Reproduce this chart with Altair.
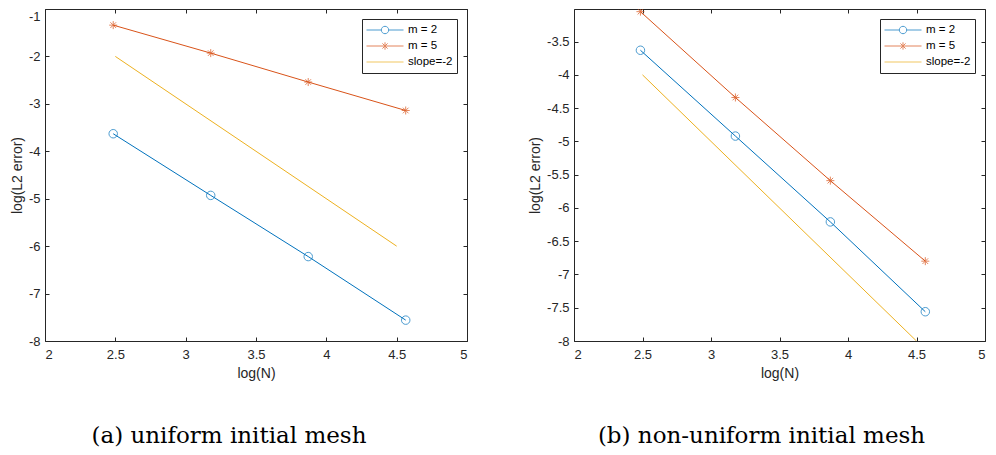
import altair as alt
import pandas as pd

series = ["m = 2", "m = 5", "slope=-2"]
colors = ["#0072BD", "#D95319", "#EDB120"]

log_n = [2.4849, 3.1781, 3.8712, 4.5643]
uni_m2 = [-3.63, -4.93, -6.22, -7.56]
uni_m5 = [-1.34, -1.93, -2.54, -3.14]
non_m2 = [-3.63, -4.92, -6.21, -7.56]
non_m5 = [-3.05, -4.34, -5.59, -6.80]
slope_x = [2.5, 4.5]
uni_slope = [-2.0, -6.0]
non_slope = [-4.0, -8.0]

x_ticks = [2, 2.5, 3, 3.5, 4, 4.5, 5]
uni_y_ticks = [-8, -7, -6, -5, -4, -3, -2, -1]
non_y_ticks = [-8, -7.5, -7, -6.5, -6, -5.5, -5, -4.5, -4, -3.5]
uni_y_domain = [-8, -1]
non_y_domain = [-8, -3.01]
captions = ["(a) uniform initial mesh", "(b) non-uniform initial mesh"]

STAR = "M-1,0H1M0,-1V1M-0.7,-0.7L0.7,0.7M-0.7,0.7L0.7,-0.7"
LEG_CIRCLE = "M-1,0H-0.2M0.2,0H1M0.2,0A0.2,0.2 0 1,1 -0.2,0A0.2,0.2 0 1,1 0.2,0"
LEG_STAR = "M-1,0H1M0,-0.2V0.2M-0.14,-0.14L0.14,0.14M-0.14,0.14L0.14,-0.14"
LEG_LINE = "M-1,0H1"
legend_paths = [LEG_CIRCLE, LEG_STAR, LEG_LINE]

AX = "#262626"


def panel(m2, m5, slope, ydom, yticks, caption, width, dx):
    rows = []
    for xv, yv in zip(log_n, m2):
        rows.append({"series": series[0], "x": xv, "y": yv})
    for xv, yv in zip(log_n, m5):
        rows.append({"series": series[1], "x": xv, "y": yv})
    for xv, yv in zip(slope_x, slope):
        rows.append({"series": series[2], "x": xv, "y": yv})
    df = pd.DataFrame(rows)
    df_leg = pd.DataFrame({"series": series, "x": [float("nan")] * 3, "y": [float("nan")] * 3})

    xs = alt.Scale(domain=[2, 5], nice=False, zero=False)
    ys = alt.Scale(domain=ydom, nice=False, zero=False)
    cscale = alt.Scale(domain=series, range=colors)
    lbl = "datum.value + ''"
    top_val = ydom[1]
    y_label_offset = {"condition": {"test": f"datum.value >= {top_val} - 0.001", "value": 7}, "value": 0}

    leg = alt.Legend(title=None, orient="top-right", offset=10, clipHeight=14, rowPadding=2,
                     symbolSize=1369, symbolStrokeWidth=1, labelOffset=4, symbolOffset=0,
                     padding=4, fillColor="white", strokeColor=AX, labelFont="Liberation Sans",
                     labelFontSize=11.5, labelColor="black")
    legend_layer = alt.Chart(df_leg).mark_point(filled=False, strokeWidth=1).encode(
        x=alt.X("x:Q", scale=xs, axis=None),
        y=alt.Y("y:Q", scale=ys, axis=None),
        color=alt.Color("series:N", scale=cscale, legend=leg),
        shape=alt.Shape("series:N", scale=alt.Scale(domain=series, range=legend_paths), legend=leg),
    )

    base = alt.Chart(df)
    lines = base.mark_line(strokeWidth=1, clip=True).encode(
        x=alt.X("x:Q", scale=xs, axis=alt.Axis(values=x_ticks, title="log(N)", orient="bottom",
                                               offset=-4, tickSize=4, labelPadding=7,
                                               titlePadding=5, labelExpr=lbl)),
        y=alt.Y("y:Q", scale=ys, axis=alt.Axis(values=yticks, title="log(L2 error)", orient="left",
                                               offset=-4, tickSize=4, labelPadding=5,
                                               titlePadding=4, labelExpr=lbl,
                                               labelOffset=y_label_offset)),
        color=alt.Color("series:N", scale=cscale),
    )
    circles = base.transform_filter(alt.datum.series == series[0]).mark_point(
        shape="circle", size=72, strokeWidth=1, filled=False, clip=True
    ).encode(
        x=alt.X("x:Q", scale=xs, axis=alt.Axis(values=x_ticks, orient="top", labels=False, title=None,
                                               offset=-4, tickSize=4)),
        y=alt.Y("y:Q", scale=ys, axis=alt.Axis(values=yticks, orient="right", labels=False, title=None,
                                               offset=-4, tickSize=4)),
        color=alt.Color("series:N", scale=cscale),
    )
    stars = base.transform_filter(alt.datum.series == series[1]).mark_point(
        shape=STAR, size=64, strokeWidth=1, filled=False, clip=True
    ).encode(
        x=alt.X("x:Q", scale=xs, axis=None),
        y=alt.Y("y:Q", scale=ys, axis=None),
        color=alt.Color("series:N", scale=cscale),
    )
    return alt.layer(legend_layer, lines, circles, stars).resolve_axis(
        x="independent", y="independent"
    ).properties(
        width=width, height=332,
        title=alt.TitleParams(caption, orient="bottom", anchor="middle", frame="group",
                              font="DejaVu Serif", fontSize=23, fontWeight="normal",
                              color="black", offset=45, dx=dx),
    )


left = panel(uni_m2, uni_m5, uni_slope, uni_y_domain, uni_y_ticks, captions[0], 422, -27)
right = panel(non_m2, non_m5, non_slope, non_y_domain, non_y_ticks, captions[1], 411, -18)

chart = alt.hconcat(left, right, spacing=60).resolve_scale(
    x="independent", y="independent", color="independent", shape="independent"
).resolve_legend(color="independent", shape="independent").properties(
    padding={"left": 1, "top": 0, "right": 0, "bottom": 0}, background="white"
).configure_view(stroke=AX, strokeWidth=1).configure_axis(
    labelFont="Liberation Sans", labelFontSize=13, labelColor=AX,
    titleFont="Liberation Sans", titleFontSize=14, titleFontWeight="normal", titleColor=AX,
    tickColor=AX, tickWidth=1, grid=False, domain=False,
)

chart.save("out.html", embed_options={"renderer": "svg", "actions": False})
